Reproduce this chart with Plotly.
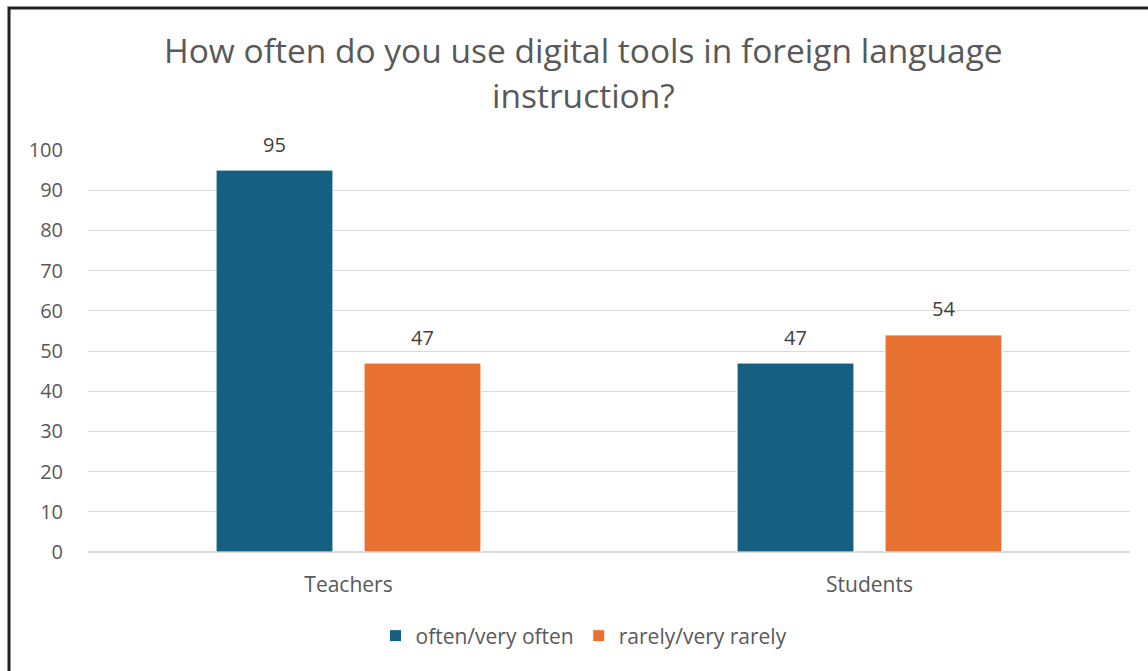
import plotly.graph_objects as go

categories = ["Teachers", "Students"]
often_vals = [95, 47]
rarely_vals = [47, 54]
series_names = ["often/very often", "rarely/very rarely"]
y_ticks = [0, 10, 20, 30, 40, 50, 60, 70, 80, 90, 100]
title_lines = ["How often do you use digital tools in foreign language", "instruction?"]

FONT = "Open Sans"
GRAY = "#595959"
COLORS = ["#156082", "#E97132"]

fig = go.Figure()
for name, vals, col in zip(series_names, [often_vals, rarely_vals], COLORS):
    fig.add_trace(go.Bar(x=categories, y=vals, name=name,
                         marker=dict(color=col, line=dict(color="#ffffff", width=1)),
                         cliponaxis=False))

# data labels above bars
annotations = []
for shift, vals in zip([-74, 74], [often_vals, rarely_vals]):
    for c, v in zip(categories, vals):
        annotations.append(dict(x=c, y=v, xref="x", yref="y", text=str(v), showarrow=False,
                                xshift=shift, yshift=26, yanchor="middle",
                                font=dict(size=20, color="#404040", family=FONT)))
# title lines
for line, py in zip(title_lines, [50, 95]):
    annotations.append(dict(x=(583 - 88) / 1042, xref="paper", y=(552 - py) / 402, yref="paper",
                            xanchor="center", yanchor="middle", showarrow=False, text=line,
                            font=dict(size=33.5, color=GRAY, family=FONT)))

fig.update_layout(
    width=1148, height=671,
    margin=dict(l=88, r=18, t=150, b=119),
    paper_bgcolor="white", plot_bgcolor="white",
    font=dict(family=FONT, color=GRAY, size=20),
    barmode="group", bargap=0.432, bargroupgap=0.21,
    showlegend=True,
    legend=dict(orientation="h", x=(584 - 88) / 1042, xanchor="center",
                y=(552 - 636) / 402, yanchor="middle",
                font=dict(size=21, color=GRAY), itemwidth=30, traceorder="normal"),
    xaxis=dict(showgrid=False, showline=False, ticks="", tickfont=dict(size=21, color=GRAY),
               ticklabelstandoff=18),
    yaxis=dict(range=[0, 100], tickvals=y_ticks, showgrid=True, gridcolor="#d9d9d9", gridwidth=1,
               zeroline=True, zerolinecolor="#d9d9d9", showline=False, ticks="",
               tickfont=dict(size=20, color=GRAY), ticklabelstandoff=24),
    annotations=annotations,
    shapes=[dict(type="rect", xref="paper", yref="paper",
                 x0=(9 - 88) / 1042, x1=(1170 - 88) / 1042,
                 y0=(552 - 700) / 402, y1=(552 - 8) / 402,
                 line=dict(color="#222222", width=3), fillcolor="rgba(0,0,0,0)", layer="above")],
)

fig.write_html("out.html")
